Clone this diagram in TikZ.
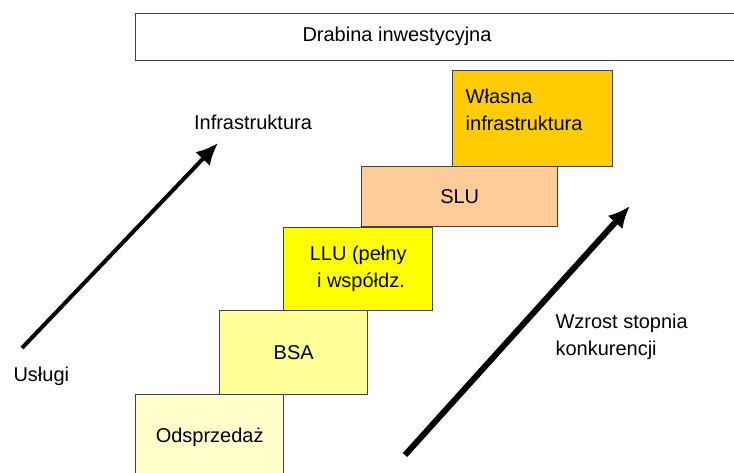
\documentclass[tikz,border=0pt]{standalone}
\usepackage{fontspec}
\setmainfont{Liberation Sans}
\usetikzlibrary{arrows.meta,positioning}

\definecolor{resale}{HTML}{FFFFCC}
\definecolor{bsa}{HTML}{FFFF99}
\definecolor{llu}{HTML}{FFFF00}
\definecolor{slu}{HTML}{FFCC99}
\definecolor{own}{HTML}{FFCC00}

\begin{document}
\begin{tikzpicture}[
    x=1pt, y=-1pt,
    every node/.style={font=\fontsize{20}{27}\selectfont},
    stepbox/.style={rectangle, draw=black!75, line width=1.4pt, anchor=north west, inner sep=0pt, align=center},
    trend/.style={draw=black, -{Latex[length=22pt,width=20pt]}},
]
\useasboundingbox (0,0) rectangle (734,473);

% Title
\node[stepbox, minimum width=620, minimum height=47] (titlebox) at (135,13) {};
\node (title) at (397,36) {Drabina inwestycyjna};

% Steps of the ladder
\node[stepbox, fill=resale, minimum width=148, minimum height=86] (resale) at (135,394) {Odsprzedaż};
\node[stepbox, fill=bsa, minimum width=148, minimum height=84] (bsa) at (219,310) {BSA};
\node[stepbox, fill=llu, minimum width=149, minimum height=83] (llu) at (283,227) {LLU (pełny\\ \ i współdz.};
\node[stepbox, fill=slu, minimum width=196, minimum height=60] (slu) at (361,166) {SLU};
\node[stepbox, fill=own, minimum width=160, minimum height=96, text width=134, inner xsep=13, align=left, text depth=44pt] (own) at (452,70) {Własna\\infrastruktura};

% Arrows
\coordinate (uslEnd) at (22,348);
\coordinate (infEnd) at (218,143);
\coordinate (konkStart) at (405,455);
\coordinate (konkEnd) at (630,206);
\draw[trend, line width=4pt] (uslEnd) -- (infEnd);
\draw[trend, line width=6pt] (konkStart) -- (konkEnd);

% Labels
\node[anchor=west] (uslugi) at (10,376) {Usługi};
\node (infra) at (253,122) {Infrastruktura};
\node[anchor=west, align=left] (konk) at (552,337) {Wzrost stopnia\\konkurencji};

\end{tikzpicture}
\end{document}
